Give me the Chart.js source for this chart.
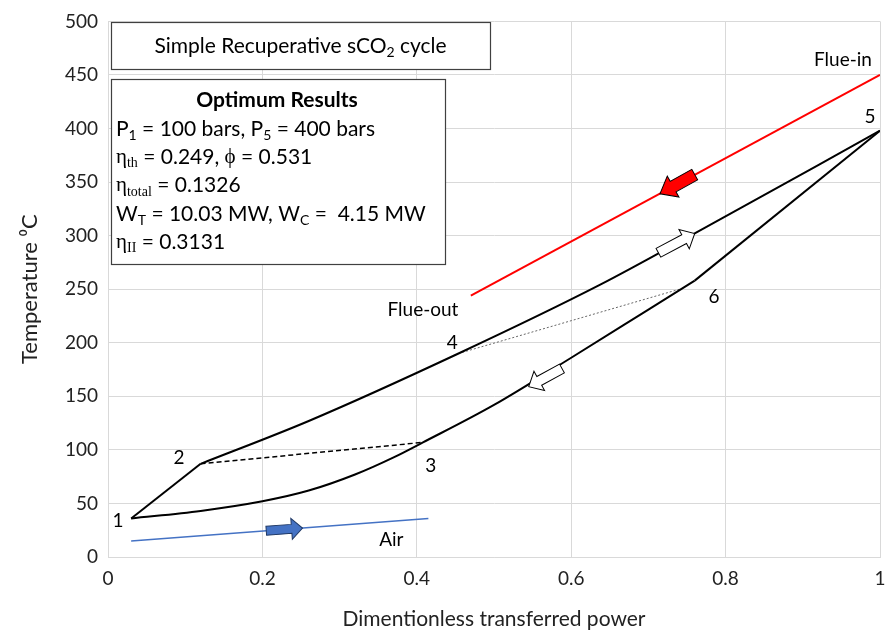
<!DOCTYPE html>
<html>
<head>
<meta charset="utf-8">
<script src="https://cdn.jsdelivr.net/npm/chart.js@4.4.1/dist/chart.umd.min.js"></script>
<style>
html, body { margin: 0; padding: 0; background: #fff; }
#wrap { width: 896px; height: 636px; position: relative; }
</style>
</head>
<body>
<div id="wrap"><canvas id="tsChart"></canvas></div>
<script>
// tick labels
var xTicks = [0, 0.2, 0.4, 0.6, 0.8, 1];
var yTicks = [0, 50, 100, 150, 200, 250, 300, 350, 400, 450, 500];

// compression 1 -> 2
var compX = [0.03, 0.12];
var compY = [36, 87];
// high pressure side 2 -> 4 -> 5
var highX = [0.12, 0.26, 0.454, 0.637, 0.76, 1];
var highY = [87, 127, 190, 254, 302, 398];
// low pressure side 1 -> 3 -> 6
var lowX = [0.03, 0.12, 0.2, 0.26, 0.32, 0.37, 0.408, 0.5, 0.6, 0.7, 0.76];
var lowY = [36, 43, 52, 62, 77, 93, 107, 142, 186, 231, 258];
// 6 -> 5
var turbX = [0.76, 1];
var turbY = [258, 398];
// flue gas and air streams
var flueX = [0.47, 1];
var flueY = [244, 450];
var airX = [0.03, 0.415];
var airY = [15, 36];
// recuperator links 2-3 and 4-6
var link23X = [0.12, 0.408];
var link23Y = [87, 107];
var link46X = [0.454, 0.745];
var link46Y = [190, 251];

function pts(xs, ys) {
    return xs.map(function (x, i) { return { x: x, y: ys[i] }; });
}

// annotations (data units)
var pointLabels = [
    { t: '1', x: 0.013, y: 34 },
    { t: '2', x: 0.092, y: 93 },
    { t: '3', x: 0.418, y: 85 },
    { t: '4', x: 0.446, y: 200 },
    { t: '5', x: 0.987, y: 411 },
    { t: '6', x: 0.785, y: 243 },
    { t: 'Flue-in', x: 0.952, y: 464 },
    { t: 'Flue-out', x: 0.408, y: 231 },
    { t: 'Air', x: 0.367, y: 16 }
];
var arrows = [
    { from: [0.76, 357], to: [0.715, 339], fill: '#ff0000', stroke: '#000', sw: 6, hw: 12, head: 15 },
    { from: [0.713, 284], to: [0.76, 302], fill: '#ffffff', stroke: '#000', sw: 5, hw: 11, head: 12 },
    { from: [0.588, 176], to: [0.545, 159], fill: '#ffffff', stroke: '#000', sw: 5, hw: 11, head: 12 },
    { from: [0.205, 24.5], to: [0.252, 27], fill: '#4472c4', stroke: '#1f3864', sw: 4.5, hw: 10.5, head: 11 }
];

Chart.defaults.font.family = 'Lato, sans-serif';

function drawRuns(ctx, runs, x, y, size, measureOnly) {
    var start = x;
    runs.forEach(function (r) {
        var fam = r.serif ? '"Liberation Serif", "DejaVu Serif", serif' : 'Lato, sans-serif';
        var s = r.sub ? Math.round(size * 0.66) : size;
        ctx.font = (r.bold ? 'bold ' : '') + s + 'px ' + fam;
        if (!measureOnly) ctx.fillText(r.t, x, y + (r.sub ? size * 0.3 : 0));
        x += ctx.measureText(r.t).width;
    });
    return x - start;
}

var overlay = {
    id: 'overlay',
    afterDatasetsDraw: function (chart) {
        var ctx = chart.ctx;
        var sx = chart.scales.x, sy = chart.scales.y;
        ctx.save();

        // arrows
        arrows.forEach(function (a) {
            var x0 = sx.getPixelForValue(a.from[0]), y0 = sy.getPixelForValue(a.from[1]);
            var x1 = sx.getPixelForValue(a.to[0]), y1 = sy.getPixelForValue(a.to[1]);
            var len = Math.hypot(x1 - x0, y1 - y0);
            ctx.save();
            ctx.translate(x0, y0);
            ctx.rotate(Math.atan2(y1 - y0, x1 - x0));
            ctx.beginPath();
            ctx.moveTo(0, -a.sw);
            ctx.lineTo(len - a.head, -a.sw);
            ctx.lineTo(len - a.head, -a.hw);
            ctx.lineTo(len, 0);
            ctx.lineTo(len - a.head, a.hw);
            ctx.lineTo(len - a.head, a.sw);
            ctx.lineTo(0, a.sw);
            ctx.closePath();
            ctx.fillStyle = a.fill;
            ctx.fill();
            ctx.lineWidth = 1;
            ctx.strokeStyle = a.stroke;
            ctx.stroke();
            ctx.restore();
        });

        // point and stream labels
        ctx.fillStyle = '#000';
        ctx.font = '19px Lato, sans-serif';
        ctx.textAlign = 'center';
        ctx.textBaseline = 'middle';
        pointLabels.forEach(function (p) {
            ctx.fillText(p.t, sx.getPixelForValue(p.x), sy.getPixelForValue(p.y));
        });

        // text boxes
        ctx.textAlign = 'left';
        ctx.lineWidth = 1.2;
        ctx.strokeStyle = '#404040';
        ctx.fillStyle = '#fff';
        ctx.fillRect(111, 22, 379, 47);
        ctx.strokeRect(111.5, 22.5, 379, 47);
        ctx.fillRect(111, 79, 334, 185);
        ctx.strokeRect(111.5, 79.5, 334, 185);

        ctx.fillStyle = '#000';
        var title = [{ t: 'Simple Recuperative sCO' }, { t: '2', sub: true }, { t: ' cycle' }];
        var w = drawRuns(ctx, title, 0, 0, 21, true);
        drawRuns(ctx, title, 300.5 - w / 2, 46, 21);

        ctx.font = 'bold 21px Lato, sans-serif';
        ctx.textAlign = 'center';
        ctx.fillText('Optimum Results', 277, 100);
        ctx.textAlign = 'left';

        var lines = [
            [{ t: 'P' }, { t: '1', sub: true }, { t: ' = 100 bars, P' }, { t: '5', sub: true }, { t: ' = 400 bars' }],
            [{ t: 'η', serif: true }, { t: 'th', serif: true, sub: true }, { t: ' = 0.249, ' }, { t: 'ϕ', serif: true }, { t: ' = 0.531' }],
            [{ t: 'η', serif: true }, { t: 'total', serif: true, sub: true }, { t: ' = 0.1326' }],
            [{ t: 'W' }, { t: 'T', sub: true }, { t: ' = 10.03 MW, W' }, { t: 'C', sub: true }, { t: ' =  4.15 MW' }],
            [{ t: 'η', serif: true }, { t: 'II', serif: true, sub: true }, { t: ' = 0.3131' }]
        ];
        lines.forEach(function (ln, i) {
            drawRuns(ctx, ln, 116, 129 + i * 28.3, 21);
        });
        ctx.restore();
    }
};

var black = '#000000';

new Chart(document.getElementById('tsChart'), {
    type: 'scatter',
    data: {
        datasets: [
            { data: pts(compX, compY), borderColor: black, borderWidth: 2 },
            { data: pts(highX, highY), borderColor: black, borderWidth: 2, cubicInterpolationMode: 'monotone' },
            { data: pts(lowX, lowY), borderColor: black, borderWidth: 2, cubicInterpolationMode: 'monotone' },
            { data: pts(turbX, turbY), borderColor: black, borderWidth: 2 },
            { data: pts(link23X, link23Y), borderColor: black, borderWidth: 1.5, borderDash: [5, 3] },
            { data: pts(link46X, link46Y), borderColor: '#666666', borderWidth: 1, borderDash: [2, 2] },
            { data: pts(flueX, flueY), borderColor: '#ff0000', borderWidth: 2 },
            { data: pts(airX, airY), borderColor: '#4472c4', borderWidth: 1.5 }
        ]
    },
    options: {
        responsive: true,
        maintainAspectRatio: false,
        animation: false,
        layout: { padding: { top: 16, right: 16, left: 0, bottom: 0 } },
        datasets: { scatter: { showLine: true, pointRadius: 0, pointHoverRadius: 0, fill: false } },
        plugins: { legend: { display: false }, tooltip: { enabled: false } },
        scales: {
            x: {
                type: 'linear', min: 0, max: 1,
                afterBuildTicks: function (s) { s.ticks = xTicks.map(function (v) { return { value: v }; }); },
                afterFit: function (s) { s.height = 79; s.paddingRight = 0; },
                grid: { color: '#d9d9d9', drawTicks: false },
                border: { color: '#d9d9d9' },
                ticks: { color: '#222', font: { size: 19 }, padding: 10, callback: function (v) { return String(v); } },
                title: { display: true, text: 'Dimentionless transferred power', color: '#222', font: { size: 21 }, padding: { top: 0, bottom: 4 } }
            },
            y: {
                type: 'linear', min: 0, max: 500,
                afterBuildTicks: function (s) { s.ticks = yTicks.map(function (v) { return { value: v }; }); },
                afterFit: function (s) { s.width = 108; },
                grid: { color: '#d9d9d9', drawTicks: false },
                border: { color: '#d9d9d9' },
                ticks: { color: '#222', font: { size: 19 }, padding: 10 },
                title: { display: true, text: 'Temperature ⁰C', color: '#222', font: { size: 22 }, padding: { top: 17, bottom: 0 } }
            }
        }
    },
    plugins: [overlay]
});
</script>
</body>
</html>
